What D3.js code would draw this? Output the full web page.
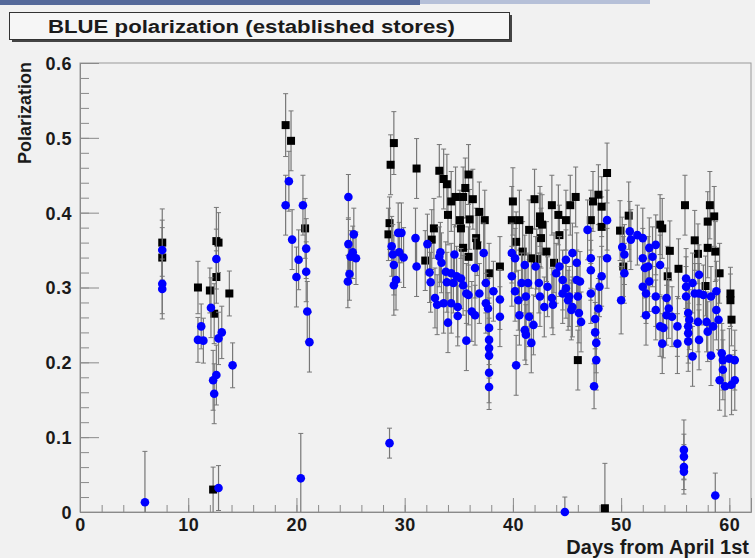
<!DOCTYPE html>
<html>
<head>
<meta charset="utf-8">
<script src="https://cdn.jsdelivr.net/npm/d3@7"></script>
<style>
  body { margin: 0; background: #f1f1f1; }
  svg text { font-family: "Liberation Sans", Arial, Helvetica, sans-serif; font-weight: bold; }
</style>
</head>
<body>
<div id="chart"></div>
<script>
// black squares: days, polarization, error
var blackDay = [7.6, 7.6, 10.9, 12.0, 12.6, 12.8, 12.6, 13.8, 12.4, 12.3,
  19.0, 19.5, 20.8, 28.7, 29.0, 31.1, 28.6, 28.5, 31.9, 32.5,
  32.7, 33.2, 33.6, 33.9, 34.0, 34.3, 34.7, 35.1, 35.2, 35.4,
  35.4, 35.6, 35.9, 36.0, 35.9, 36.3, 36.6, 36.7, 36.9, 37.4,
  37.8, 38.8, 39.9, 40.0, 40.3, 40.6, 40.9, 41.5, 41.7, 42.0,
  42.2, 42.5, 42.5, 42.6, 42.7, 43.1, 43.6, 43.8, 44.2, 44.3,
  44.9, 45.3, 45.8, 46.0, 47.2, 47.4, 47.9, 48.2, 48.2, 48.7,
  48.5, 49.9, 50.2, 50.7, 53.6, 53.8, 54.5, 54.3, 55.3, 55.9,
  56.8, 57.1, 57.8, 58.2, 58.0, 58.6, 58.0, 58.7, 59.1, 60.1,
  60.1, 60.2];
var blackPol = [0.360, 0.340, 0.300, 0.296, 0.362, 0.360, 0.314, 0.292, 0.265, 0.030,
  0.517, 0.496, 0.379, 0.464, 0.493, 0.459, 0.386, 0.371, 0.336, 0.364,
  0.379, 0.456, 0.445, 0.438, 0.397, 0.415, 0.421, 0.390, 0.379, 0.421,
  0.353, 0.433, 0.451, 0.391, 0.341, 0.418, 0.366, 0.356, 0.401, 0.390,
  0.319, 0.328, 0.390, 0.415, 0.361, 0.390, 0.348, 0.377, 0.339, 0.418,
  0.338, 0.395, 0.386, 0.366, 0.384, 0.348, 0.410, 0.333, 0.397, 0.370,
  0.390, 0.410, 0.421, 0.203, 0.390, 0.415, 0.424, 0.408, 0.381, 0.453,
  0.005, 0.376, 0.328, 0.396, 0.384, 0.379, 0.349, 0.315, 0.325, 0.410,
  0.363, 0.345, 0.302, 0.410, 0.388, 0.395, 0.353, 0.348, 0.319, 0.292,
  0.283, 0.257];
var blackErr = [0.045, 0.040, 0.035, 0.030, 0.045, 0.040, 0.035, 0.030, 0.040, 0.030,
  0.042, 0.040, 0.040, 0.040, 0.042, 0.040, 0.035, 0.035, 0.040, 0.040,
  0.040, 0.035, 0.040, 0.040, 0.040, 0.040, 0.040, 0.040, 0.040, 0.040,
  0.040, 0.040, 0.040, 0.040, 0.040, 0.040, 0.040, 0.040, 0.040, 0.040,
  0.040, 0.040, 0.045, 0.045, 0.040, 0.040, 0.040, 0.040, 0.040, 0.040,
  0.040, 0.040, 0.040, 0.040, 0.040, 0.040, 0.040, 0.040, 0.040, 0.040,
  0.040, 0.040, 0.040, 0.040, 0.040, 0.040, 0.040, 0.040, 0.040, 0.040,
  0.060, 0.040, 0.040, 0.045, 0.040, 0.040, 0.040, 0.040, 0.040, 0.040,
  0.040, 0.040, 0.040, 0.045, 0.040, 0.040, 0.040, 0.040, 0.040, 0.035,
  0.035, 0.035];

// blue circles: days, polarization, error
var blueDay = [6.0, 7.6, 7.6, 7.6, 10.9, 11.2, 11.4, 12.1, 12.6, 12.8,
  13.1, 12.6, 12.3, 12.4, 14.1, 12.8, 19.3, 19.0, 20.6, 19.6,
  20.9, 20.2, 20.0, 20.9, 21.0, 21.2, 20.4, 24.8, 25.3, 24.8,
  25.2, 25.0, 25.5, 24.9, 24.75, 28.6, 29.4, 29.7, 28.8, 28.9,
  29.5, 29.9, 29.0, 29.2, 29.0, 31.0, 31.1, 32.1, 32.3, 32.4,
  32.8, 33.0, 33.2, 33.3, 33.4, 33.8, 33.9, 33.6, 34.0, 34.6,
  34.3, 34.8, 35.2, 34.5, 35.4, 35.7, 34.3, 34.9, 34.9, 35.7,
  35.9, 36.2, 36.5, 36.9, 36.5, 37.3, 37.5, 37.5, 37.7, 38.2,
  38.8, 38.8, 37.8, 37.8, 37.8, 37.8, 37.8, 37.8, 39.9, 40.2,
  39.9, 40.2, 40.5, 40.6, 40.3, 41.1, 40.8, 41.4, 41.2, 41.1,
  41.2, 41.7, 41.5, 41.9, 42.1, 42.4, 42.5, 42.9, 43.2, 43.6,
  43.7, 44.0, 44.3, 44.6, 44.9, 44.9, 45.2, 45.4, 45.5, 45.9,
  45.9, 44.6, 45.1, 45.5, 46.1, 46.3, 46.0, 46.2, 44.8, 46.9,
  48.7, 47.2, 47.2, 48.2, 48.0, 47.2, 48.7, 47.9, 47.6, 47.6,
  47.7, 47.7, 47.5, 50.1, 50.3, 50.3, 50.0, 50.8, 50.9, 51.5,
  52.0, 52.0, 52.2, 52.0, 52.3, 52.3, 52.6, 53.2, 52.9, 52.5,
  52.6, 53.6, 53.2, 53.2, 53.6, 53.9, 53.8, 54.2, 54.4, 54.2,
  54.7, 55.2, 55.2, 56.0, 56.0, 56.0, 56.2, 56.3, 56.2, 56.2,
  56.2, 56.6, 57.2, 56.6, 56.8, 57.2, 57.1, 57.2, 57.6, 57.9,
  58.3, 58.8, 58.0, 58.5, 58.3, 58.8, 59.0, 59.3, 59.4, 59.4,
  59.1, 59.6, 60.0, 60.5, 60.2, 60.5, 55.8, 55.8, 55.8, 55.8,
  58.7];
var bluePol = [0.013, 0.350, 0.305, 0.298, 0.230, 0.248, 0.229, 0.273, 0.338, 0.232,
  0.240, 0.183, 0.176, 0.158, 0.196, 0.032, 0.442, 0.410, 0.410, 0.364,
  0.352, 0.337, 0.314, 0.321, 0.268, 0.227, 0.045, 0.421, 0.371, 0.358,
  0.347, 0.341, 0.339, 0.318, 0.308, 0.092, 0.373, 0.373, 0.355, 0.344,
  0.347, 0.340, 0.330, 0.310, 0.303, 0.366, 0.328, 0.358, 0.320, 0.307,
  0.286, 0.277, 0.341, 0.347, 0.333, 0.321, 0.307, 0.279, 0.253, 0.344,
  0.319, 0.315, 0.312, 0.306, 0.303, 0.292, 0.279, 0.274, 0.262, 0.229,
  0.290, 0.268, 0.326, 0.292, 0.263, 0.346, 0.306, 0.279, 0.272, 0.295,
  0.284, 0.261, 0.246, 0.230, 0.219, 0.209, 0.186, 0.167, 0.346, 0.339,
  0.315, 0.295, 0.283, 0.263, 0.196, 0.330, 0.306, 0.306, 0.288, 0.243,
  0.237, 0.226, 0.261, 0.250, 0.328, 0.306, 0.288, 0.274, 0.301, 0.286,
  0.277, 0.319, 0.328, 0.310, 0.337, 0.299, 0.288, 0.270, 0.346, 0.333,
  0.310, 0.292, 0.283, 0.274, 0.266, 0.254, 0.288, 0.308, 0.000, 0.377,
  0.390, 0.339, 0.323, 0.315, 0.301, 0.292, 0.339, 0.272, 0.258, 0.240,
  0.226, 0.203, 0.168, 0.354, 0.344, 0.319, 0.283, 0.375, 0.364, 0.370,
  0.366, 0.339, 0.326, 0.301, 0.292, 0.263, 0.353, 0.357, 0.341, 0.328,
  0.308, 0.330, 0.288, 0.270, 0.248, 0.246, 0.225, 0.286, 0.272, 0.263,
  0.261, 0.248, 0.225, 0.312, 0.301, 0.288, 0.266, 0.257, 0.248, 0.239,
  0.228, 0.208, 0.317, 0.306, 0.292, 0.292, 0.254, 0.230, 0.290, 0.254,
  0.288, 0.295, 0.241, 0.248, 0.209, 0.270, 0.257, 0.212, 0.203, 0.190,
  0.176, 0.168, 0.205, 0.203, 0.170, 0.176, 0.083, 0.074, 0.060, 0.054,
  0.022];
var blueErr = [0.068, 0.040, 0.040, 0.040, 0.030, 0.030, 0.030, 0.040, 0.040, 0.035,
  0.035, 0.040, 0.040, 0.040, 0.030, 0.030, 0.040, 0.040, 0.040, 0.040,
  0.040, 0.040, 0.040, 0.040, 0.040, 0.040, 0.060, 0.030, 0.035, 0.035,
  0.035, 0.035, 0.035, 0.035, 0.035, 0.020, 0.040, 0.040, 0.040, 0.040,
  0.040, 0.040, 0.040, 0.040, 0.040, 0.040, 0.040, 0.040, 0.040, 0.040,
  0.040, 0.040, 0.040, 0.040, 0.040, 0.040, 0.040, 0.040, 0.040, 0.040,
  0.040, 0.040, 0.040, 0.040, 0.040, 0.040, 0.040, 0.040, 0.040, 0.040,
  0.040, 0.040, 0.040, 0.040, 0.040, 0.040, 0.040, 0.040, 0.040, 0.040,
  0.040, 0.040, 0.040, 0.040, 0.040, 0.040, 0.040, 0.030, 0.040, 0.040,
  0.040, 0.040, 0.040, 0.040, 0.040, 0.040, 0.040, 0.040, 0.040, 0.040,
  0.040, 0.040, 0.040, 0.040, 0.040, 0.040, 0.040, 0.040, 0.040, 0.040,
  0.040, 0.040, 0.040, 0.040, 0.040, 0.040, 0.040, 0.040, 0.040, 0.040,
  0.040, 0.040, 0.040, 0.040, 0.040, 0.040, 0.040, 0.040, 0.020, 0.040,
  0.040, 0.040, 0.040, 0.040, 0.040, 0.040, 0.040, 0.040, 0.040, 0.040,
  0.040, 0.040, 0.030, 0.040, 0.040, 0.040, 0.045, 0.040, 0.040, 0.040,
  0.040, 0.040, 0.040, 0.040, 0.040, 0.040, 0.040, 0.040, 0.040, 0.040,
  0.040, 0.040, 0.040, 0.040, 0.040, 0.040, 0.040, 0.040, 0.040, 0.040,
  0.040, 0.040, 0.040, 0.040, 0.040, 0.040, 0.040, 0.040, 0.040, 0.040,
  0.040, 0.040, 0.040, 0.040, 0.040, 0.040, 0.040, 0.040, 0.040, 0.040,
  0.040, 0.040, 0.040, 0.040, 0.040, 0.040, 0.040, 0.040, 0.040, 0.040,
  0.040, 0.040, 0.040, 0.040, 0.040, 0.040, 0.040, 0.030, 0.030, 0.030,
  0.030];

var xTicks = [0, 10, 20, 30, 40, 50, 60];
var xLabels = ["0", "10", "20", "30", "40", "50", "60"];
var yTicks = [0, 0.1, 0.2, 0.3, 0.4, 0.5, 0.6];
var yLabels = ["0", "0.1", "0.2", "0.3", "0.4", "0.5", "0.6"];

var w = 755, h = 558;
var frameLeft = 80, frameRight = 751, frameTop = 63, frameBottom = 512;

var svg = d3.select("#chart").append("svg")
    .attr("width", w)
    .attr("height", h)
    .style("display", "block");

svg.append("rect").attr("width", w).attr("height", h).attr("fill", "#f1f1f1");

// strip of another window at the very top of the screenshot
svg.append("rect").attr("x", 0).attr("y", 0).attr("width", 420).attr("height", 5).attr("fill", "#55699a");
svg.append("rect").attr("x", 420).attr("y", 0).attr("width", 230).attr("height", 4).attr("fill", "#b6c0d8");

var x = d3.scaleLinear().domain([0, 62]).range([frameLeft, frameRight]);
var y = d3.scaleLinear().domain([0, 0.6]).range([frameBottom, frameTop]);

// frame
svg.append("rect")
    .attr("x", frameLeft).attr("y", frameTop)
    .attr("width", frameRight - frameLeft).attr("height", frameBottom - frameTop)
    .attr("fill", "none")
    .attr("stroke", "#9a9a9a");

// minor ticks
svg.append("g")
    .attr("transform", "translate(" + frameLeft + ",0)")
    .call(d3.axisLeft(y).tickValues(d3.range(0, 0.6001, 0.02)).tickSize(-9).tickFormat(""))
    .call(function(g) { g.select(".domain").remove(); g.selectAll("line").attr("stroke", "#8a8a8a"); });
svg.append("g")
    .attr("transform", "translate(0," + frameBottom + ")")
    .call(d3.axisBottom(x).tickValues(d3.range(0, 62.01, 2)).tickSize(-7).tickFormat(""))
    .call(function(g) { g.select(".domain").remove(); g.selectAll("line").attr("stroke", "#8a8a8a"); });

// major ticks and labels
var yAxis = svg.append("g")
    .attr("transform", "translate(" + frameLeft + ",0)")
    .call(d3.axisLeft(y).tickValues(yTicks).tickSize(-19).tickPadding(8)
      .tickFormat(function(d, i) { return yLabels[i]; }));
var xAxis = svg.append("g")
    .attr("transform", "translate(0," + frameBottom + ")")
    .call(d3.axisBottom(x).tickValues(xTicks).tickSize(-14).tickPadding(6)
      .tickFormat(function(d, i) { return xLabels[i]; }));

[yAxis, xAxis].forEach(function(g) {
  g.select(".domain").attr("stroke", "#8a8a8a");
  g.selectAll("line").attr("stroke", "#8a8a8a");
  g.selectAll("text")
    .attr("fill", "#1a1a1a")
    .style("font-size", "18px")
    .style("letter-spacing", "0.5px")
    .style("font-family", "'Liberation Sans', Arial, sans-serif")
    .style("font-weight", "bold");
});
yAxis.selectAll("text").attr("dy", "0.36em");

// error bars and markers
function drawSeries(days, pol, err, black) {
  var pts = days.map(function(d, i) { return { d: d, p: pol[i], e: err[i] }; });
  var g = svg.append("g");
  var bars = g.selectAll("g.err").data(pts).enter().append("g").attr("class", "err");
  bars.append("line")
      .attr("x1", function(o) { return x(o.d); })
      .attr("x2", function(o) { return x(o.d); })
      .attr("y1", function(o) { return y(Math.max(0, o.p - o.e)); })
      .attr("y2", function(o) { return y(o.p + o.e); })
      .attr("stroke", "#777").attr("stroke-width", 1.2);
  bars.append("line")
      .attr("x1", function(o) { return x(o.d) - 2.5; })
      .attr("x2", function(o) { return x(o.d) + 2.5; })
      .attr("y1", function(o) { return y(o.p + o.e); })
      .attr("y2", function(o) { return y(o.p + o.e); })
      .attr("stroke", "#777");
  bars.filter(function(o) { return o.p - o.e > 0; }).append("line")
      .attr("x1", function(o) { return x(o.d) - 2.5; })
      .attr("x2", function(o) { return x(o.d) + 2.5; })
      .attr("y1", function(o) { return y(o.p - o.e); })
      .attr("y2", function(o) { return y(o.p - o.e); })
      .attr("stroke", "#777");
  if (black) {
    g.selectAll("rect.m").data(pts).enter().append("rect")
        .attr("class", "m")
        .attr("x", function(o) { return x(o.d) - 4; })
        .attr("y", function(o) { return y(o.p) - 4; })
        .attr("width", 8).attr("height", 8)
        .attr("fill", "#000");
  } else {
    g.selectAll("circle.m").data(pts).enter().append("circle")
        .attr("class", "m")
        .attr("cx", function(o) { return x(o.d); })
        .attr("cy", function(o) { return y(o.p); })
        .attr("r", 4.3)
        .attr("fill", "#0000ff");
  }
}
drawSeries(blackDay, blackPol, blackErr, true);
drawSeries(blueDay, bluePol, blueErr, false);

// axis titles
svg.append("text")
    .attr("transform", "translate(31,62) rotate(-90)")
    .attr("text-anchor", "end")
    .attr("fill", "#1a1a1a")
    .style("font-size", "18px")
    .text("Polarization");
svg.append("text")
    .attr("x", 749).attr("y", 554)
    .attr("text-anchor", "end")
    .attr("fill", "#1a1a1a")
    .style("font-size", "20px")
    .text("Days from April 1st");

// title box with shadow
svg.append("rect").attr("x", 12).attr("y", 15).attr("width", 500).attr("height", 27).attr("fill", "#444");
svg.append("rect").attr("x", 9.5).attr("y", 12.5).attr("width", 500).attr("height", 27)
    .attr("fill", "#f6f6f6").attr("stroke", "#333");
svg.append("text")
    .attr("x", 48).attr("y", 33)
    .attr("fill", "#1a1a1a")
    .attr("textLength", 407)
    .attr("lengthAdjust", "spacingAndGlyphs")
    .style("font-size", "18px")
    .text("BLUE polarization (established stores)");
</script>
</body>
</html>
